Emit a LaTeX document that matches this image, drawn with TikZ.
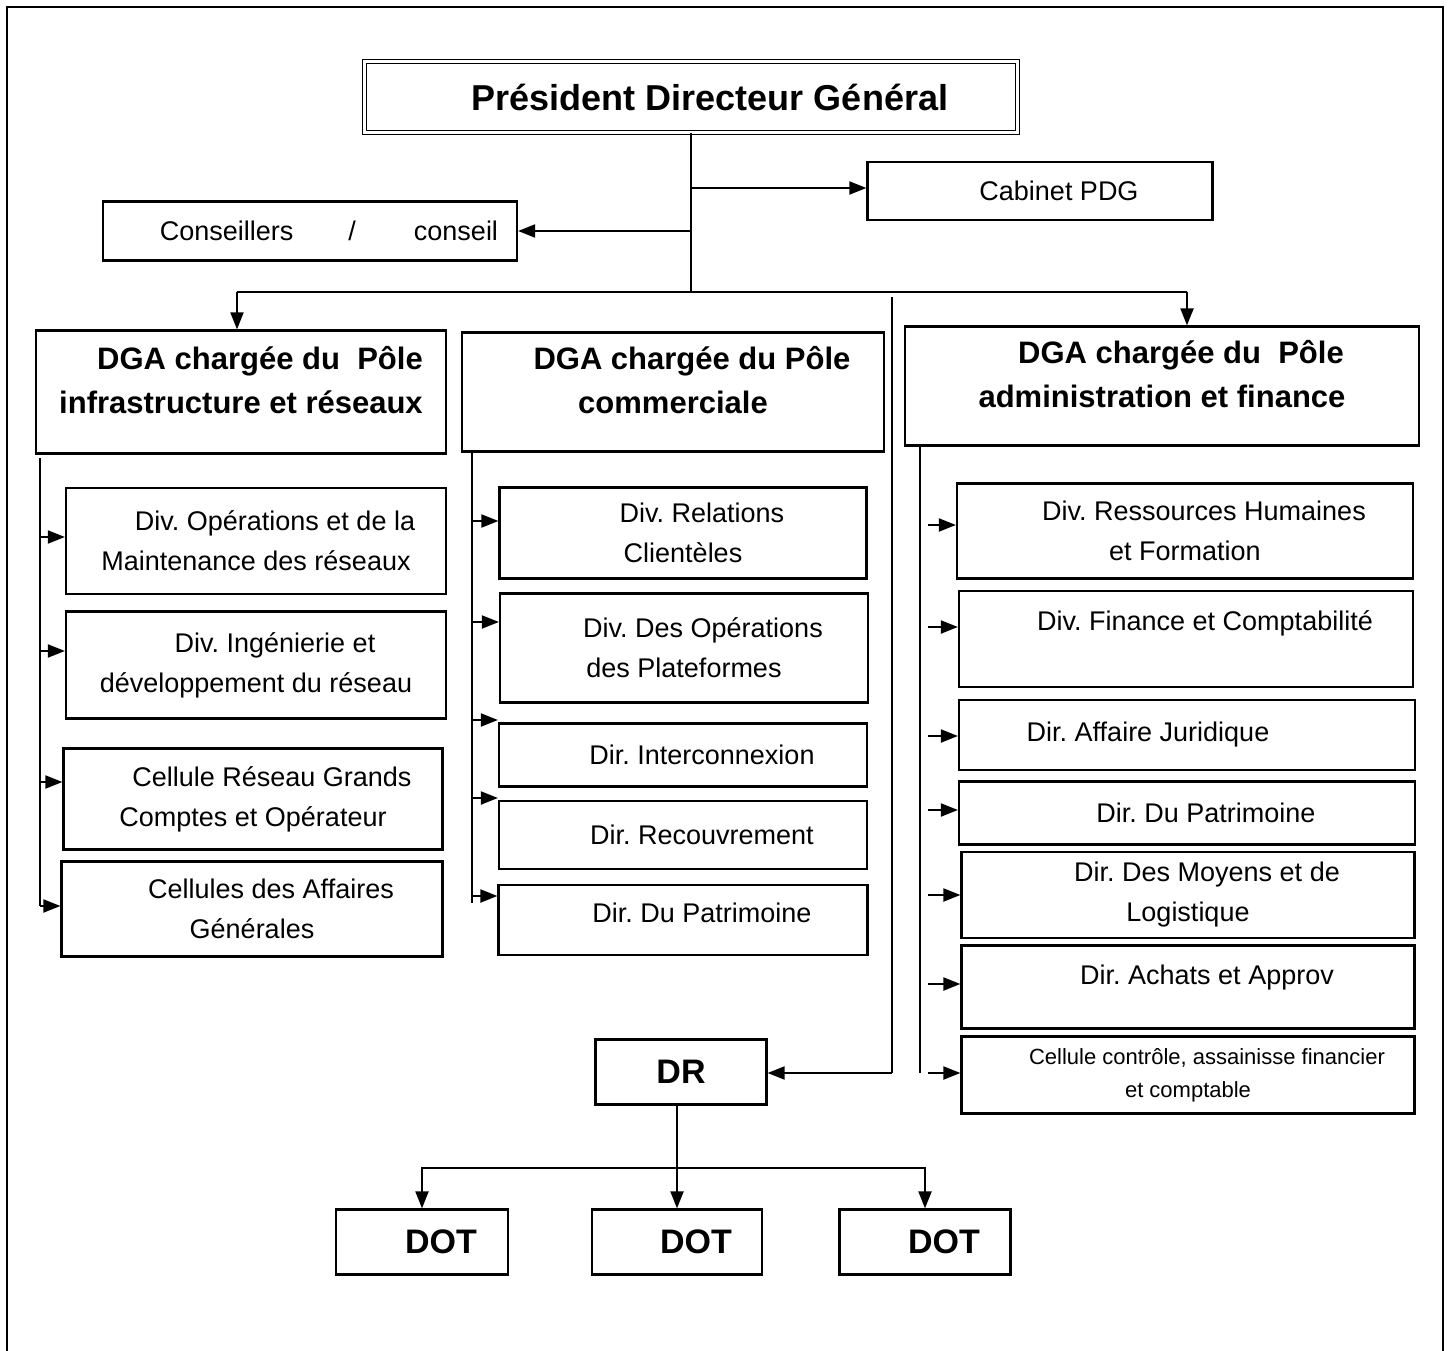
\documentclass[tikz,border=0pt]{standalone}
\usepackage{fontspec}
\setmainfont{Liberation Sans}
\usetikzlibrary{arrows.meta}
\frenchspacing
\newcommand\firstind{\hspace*{38pt}}

\begin{document}
\begin{tikzpicture}[x=1pt, y=-1pt, line width=2pt,
    box/.style={draw, line width=2.2pt, align=center, inner sep=0pt},
    txt/.style={font=\fontsize{27}{40}\selectfont},
    small/.style={font=\fontsize{22}{33}\selectfont},
    dga/.style={font=\fontsize{31}{44}\selectfont\bfseries},
    big/.style={font=\fontsize{34}{40}\selectfont\bfseries},
    arr/.style={-{Triangle[length=17pt, width=13pt]}}]
    \useasboundingbox (0, 0) rectangle (1448, 1351);
    \draw[line width=2.4pt] (7, 1351) -- (7, 7) -- (1443, 7) -- (1443, 1351);

    \node[box, line width=1.4pt, double, double distance=3pt, font=\fontsize{36}{40}\selectfont\bfseries, minimum width=653, minimum height=71] (0) at (691, 97) {\firstind Président Directeur Général};
    \node[box, txt, minimum width=345, minimum height=58] (1) at (1040, 191) {\firstind Cabinet PDG};
    \node[box, txt, minimum width=414, minimum height=59] (2) at (310, 231) {\firstind Conseillers\hspace{55pt}/\hspace{58pt}conseil};

    \node[box, dga, minimum width=410, minimum height=123] (3) at (241, 392) {\firstind DGA chargée du \ Pôle\\infrastructure et réseaux\\[-34pt]\strut};
    \node[box, dga, minimum width=422, minimum height=119] (4) at (673, 392) {\firstind DGA chargée du Pôle\\commerciale\\[-34pt]\strut};
    \node[box, dga, minimum width=514, minimum height=119] (5) at (1162, 386) {\firstind DGA chargée du \ Pôle\\administration et finance\\[-34pt]\strut};

    \node[box, txt, minimum width=380, minimum height=106] (6) at (256, 541) {\firstind Div. Opérations et de la\\Maintenance des réseaux};
    \node[box, txt, minimum width=380, minimum height=107] (7) at (256, 665) {\firstind Div. Ingénierie et\\développement du réseau};
    \node[box, txt, minimum width=379, minimum height=101] (8) at (253, 799) {\firstind Cellule Réseau Grands\\Comptes et Opérateur};
    \node[box, txt, minimum width=381, minimum height=95] (9) at (252, 909) {\firstind Cellules des Affaires\\Générales};

    \node[box, txt, minimum width=367, minimum height=91] (10) at (683, 533) {\firstind Div. Relations\\Clientèles};
    \node[box, txt, minimum width=368, minimum height=109] (11) at (684, 648) {\firstind Div. Des Opérations\\des Plateformes};
    \node[box, txt, minimum width=368, minimum height=63] (12) at (683, 755) {\firstind Dir. Interconnexion};
    \node[box, txt, minimum width=368, minimum height=68] (13) at (683, 835) {\firstind Dir. Recouvrement};
    \node[box, txt, minimum width=369, minimum height=70] (14) at (683, 920) {\firstind Dir. Du Patrimoine\\[-38pt]\strut};

    \node[box, txt, minimum width=456, minimum height=95] (15) at (1185, 531) {\firstind Div. Ressources Humaines\\et Formation};
    \node[box, txt, minimum width=454, minimum height=96] (16) at (1186, 639) {\firstind Div. Finance et Comptabilité\\[-16pt]\strut};
    \node[box, txt, minimum width=456, minimum height=70] (17) at (1187, 735) {Dir. Affaire Juridique\hspace*{78pt}};
    \node[box, txt, minimum width=456, minimum height=63] (18) at (1187, 813) {\firstind Dir. Du Patrimoine};
    \node[box, txt, minimum width=453, minimum height=86] (19) at (1188, 895) {\firstind Dir. Des Moyens et de\\Logistique};
    \node[box, txt, minimum width=453, minimum height=83] (20) at (1188, 987) {\firstind Dir. Achats et Approv\\[-28pt]\strut};
    \node[box, small, minimum width=453, minimum height=77] (21) at (1188, 1075) {\firstind Cellule contrôle, assainisse financier\\et comptable};

    \node[box, big, minimum width=171, minimum height=65] (22) at (681, 1072) {DR};
    \node[box, big, minimum width=172, minimum height=65] (23) at (422, 1242) {\firstind DOT};
    \node[box, big, minimum width=170, minimum height=65] (24) at (677, 1242) {\firstind DOT};
    \node[box, big, minimum width=171, minimum height=65] (25) at (925, 1242) {\firstind DOT};

    \coordinate (a) at (691, 188);
    \coordinate (b) at (691, 231);
    \coordinate (c) at (691, 292);
    \coordinate (d) at (237, 292);
    \coordinate (e) at (1187, 292);
    \coordinate (f) at (892, 297);
    \coordinate (g) at (892, 1073);
    \coordinate (h) at (678, 1168);
    \coordinate (l0) at (40, 458);
    \coordinate (l1) at (40, 906);
    \coordinate (m0) at (472, 452);
    \coordinate (m1) at (472, 903);
    \coordinate (r0) at (920, 445);
    \coordinate (r1) at (920, 1073);
    \coordinate (s) at (928, 445);

    \draw (0) -- (c);
    \draw[arr] (a) -- (a -| 1.west);
    \draw[arr] (b) -- (b -| 2.east);
    \draw (d) -- (e);
    \draw[arr] (d) -- (d |- 3.north);
    \draw[arr] (e) -- (e |- 5.north);
    \draw (f) -- (g);
    \draw[arr] (g) -- (g -| 22.east);

    \draw (l0) -- (l1);
    \draw (m0) -- (m1);
    \draw (r0) -- (r1);
    \foreach \n/\y in {6/537, 7/651, 8/782, 9/906}
        \draw[arr] (l0 |- 0, \y) -- (\n.west |- 0, \y);
    \foreach \n/\y in {10/521, 11/622, 12/720, 13/798, 14/896}
        \draw[arr] (m0 |- 0, \y) -- (\n.west |- 0, \y);
    \foreach \n/\y in {15/525, 16/627, 17/736, 18/810, 19/895, 20/984, 21/1073}
        \draw[arr] (s |- 0, \y) -- (\n.west |- 0, \y);

    \draw[arr] (22.south -| 24.north) -- (24.north);
    \draw[arr] (h) -| (23.north);
    \draw[arr] (h) -| (25.north);
\end{tikzpicture}
\end{document}
